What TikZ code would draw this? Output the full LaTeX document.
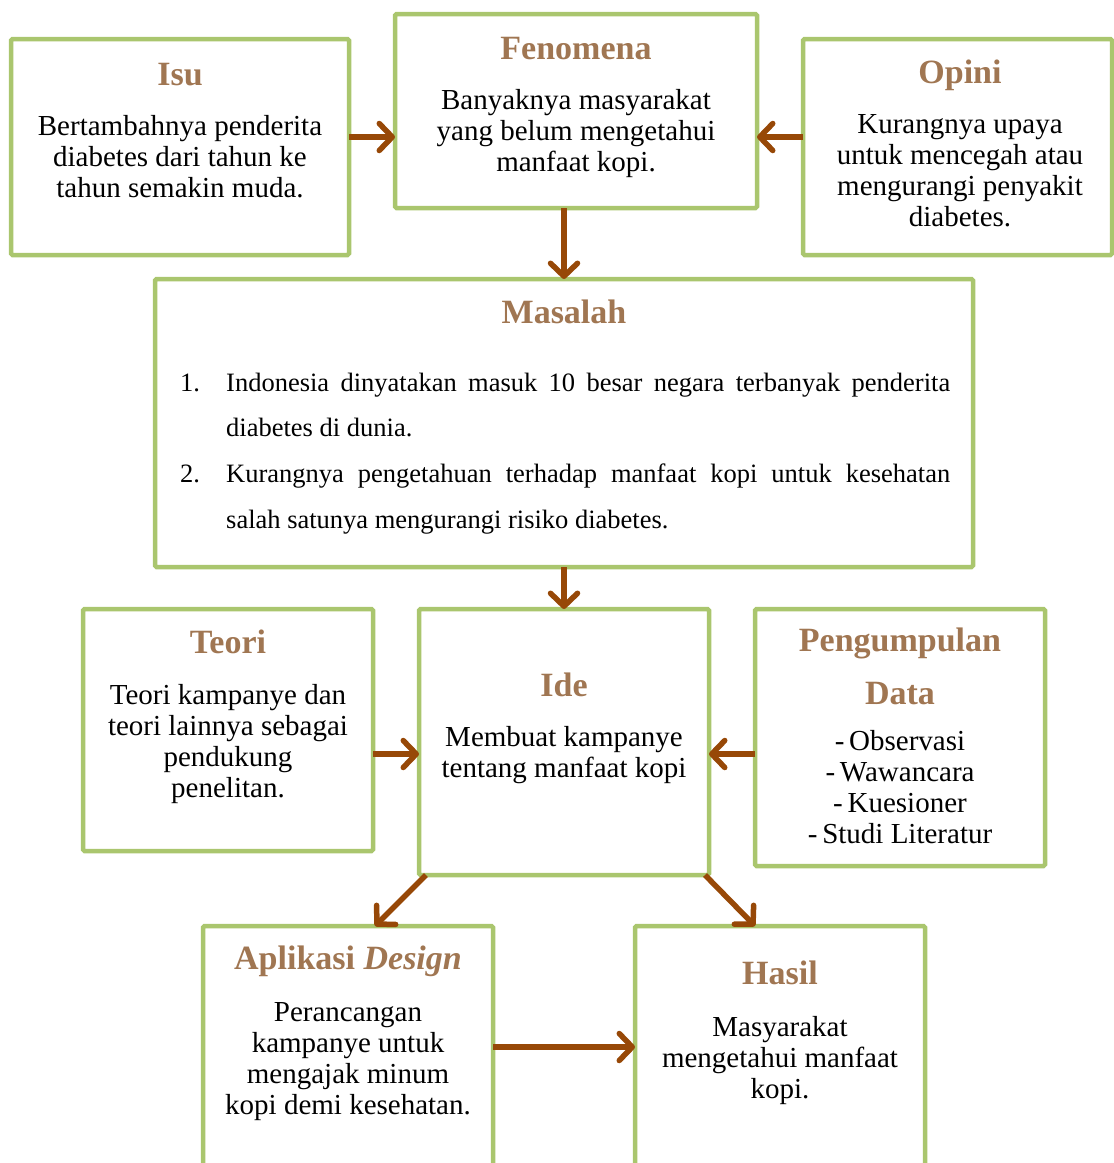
\documentclass[tikz,border=0pt]{standalone}
\usepackage{fontspec}
\setmainfont{Liberation Serif}
\usetikzlibrary{arrows.meta,calc}
\definecolor{boxgreen}{RGB}{170,198,110}
\definecolor{arrbrown}{RGB}{151,72,7}
\definecolor{ttlbrown}{RGB}{160,118,82}
\begin{document}
\begin{tikzpicture}[x=1pt,y=-1pt,
  box/.style={draw=boxgreen, line width=4.5pt, fill=white, rounded corners=1.5pt, anchor=north west, inner sep=0pt, outer sep=0pt},
  ttl/.style={font=\fontsize{34}{36}\selectfont\bfseries, text=ttlbrown, inner sep=0pt, anchor=base},
  body/.style={font=\fontsize{29}{31}\selectfont, align=center, inner sep=0pt, anchor=north},
  lst/.style={font=\fontsize{26.5}{30}\selectfont, inner sep=0pt, anchor=base west},
  arr/.style={draw=arrbrown, line width=5.5pt, -{Straight Barb[length=13pt,width=27pt,round]}}]
\useasboundingbox (0,0) rectangle (1114,1163);
\clip (0,0) rectangle (1114,1163);
% boxes
\node[box, minimum width=338pt, minimum height=216pt] (isu) at (11,39) {};
\node[box, minimum width=362pt, minimum height=194pt] (fen) at (395,14) {};
\node[box, minimum width=309pt, minimum height=216pt] (opi) at (803,39) {};
\node[box, minimum width=818pt, minimum height=288pt] (mas) at (155,279) {};
\node[box, minimum width=290pt, minimum height=242pt] (teo) at (83,609) {};
\node[box, minimum width=290pt, minimum height=266pt] (ide) at (419,609) {};
\node[box, minimum width=290pt, minimum height=257pt] (pen) at (755,609) {};
\node[box, minimum width=290pt, minimum height=260pt] (apl) at (203,926) {};
\node[box, minimum width=290pt, minimum height=260pt] (has) at (635,926) {};
% titles
\node[ttl] (tisu) at (180,85) {Isu};
\node[ttl] (tfen) at (576,59) {Fenomena};
\node[ttl] (topi) at (960,83) {Opini};
\node[ttl] (tmas) at (564,323) {Masalah};
\node[ttl] (tteo) at (228,653) {Teori};
\node[ttl] (tide) at (564,696) {Ide};
\node[ttl] (tpen1) at (900,651) {Pengumpulan};
\node[ttl] (tpen2) at (900,704) {Data};
\node[ttl] (tapl) at (348,969) {Aplikasi \textit{Design}};
\node[ttl] (thas) at (780,984) {Hasil};
% bodies
\node[body] (bisu) at (180,115) {Bertambahnya penderita\\diabetes dari tahun ke\\tahun semakin muda.};
\node[body] (bfen) at (576,89) {Banyaknya masyarakat\\yang belum mengetahui\\manfaat kopi.};
\node[body] (bopi) at (960,114) {Kurangnya upaya\\untuk mencegah atau\\mengurangi penyakit\\diabetes.};
\node[body] (bteo) at (228,684) {Teori kampanye dan\\teori lainnya sebagai\\pendukung\\penelitan.};
\node[body] (bide) at (564,726) {Membuat kampanye\\tentang manfaat kopi};
\node[body] (bpen) at (900,730) {-\,Observasi\\-\,Wawancara\\-\,Kuesioner\\-\,Studi Literatur};
\node[body] (bapl) at (348,1002) {Perancangan\\kampanye untuk\\mengajak minum\\kopi demi kesehatan.};
\node[body] (bhas) at (780,1016) {Masyarakat\\mengetahui manfaat\\kopi.};
% list in Masalah
\node[lst] (n1) at (180,391) {1.};
\node[lst] (l1a) at (226,391) {\makebox[724pt][s]{Indonesia dinyatakan masuk 10 besar negara terbanyak penderita}};
\node[lst] (l1b) at (226,436) {diabetes di dunia.};
\node[lst] (n2) at (180,482) {2.};
\node[lst] (l2a) at (226,482) {\makebox[724pt][s]{Kurangnya pengetahuan terhadap manfaat kopi untuk kesehatan}};
\node[lst] (l2b) at (226,528) {salah satunya mengurangi risiko diabetes.};
% arrows
\draw[arr] (isu.east |- 0,137) -- (fen.west |- 0,137);
\draw[arr] (opi.west |- 0,137) -- (fen.east |- 0,137);
\draw[arr] (fen.south -| mas.north) -- (mas.north);
\draw[arr] (mas.south) -- (ide.north);
\draw[arr] (teo.east |- 0,754) -- (ide.west |- 0,754);
\draw[arr] (pen.west |- 0,754) -- (ide.east |- 0,754);
\draw[arr] ($(ide.south west)+(7,0)$) -- ($(apl.north west)+(172,0)$);
\draw[arr] ($(ide.south east)+(-4,0)$) -- ($(has.north west)+(120,0)$);
\draw[arr] (apl.east |- 0,1047) -- (has.west |- 0,1047);
\end{tikzpicture}
\end{document}
